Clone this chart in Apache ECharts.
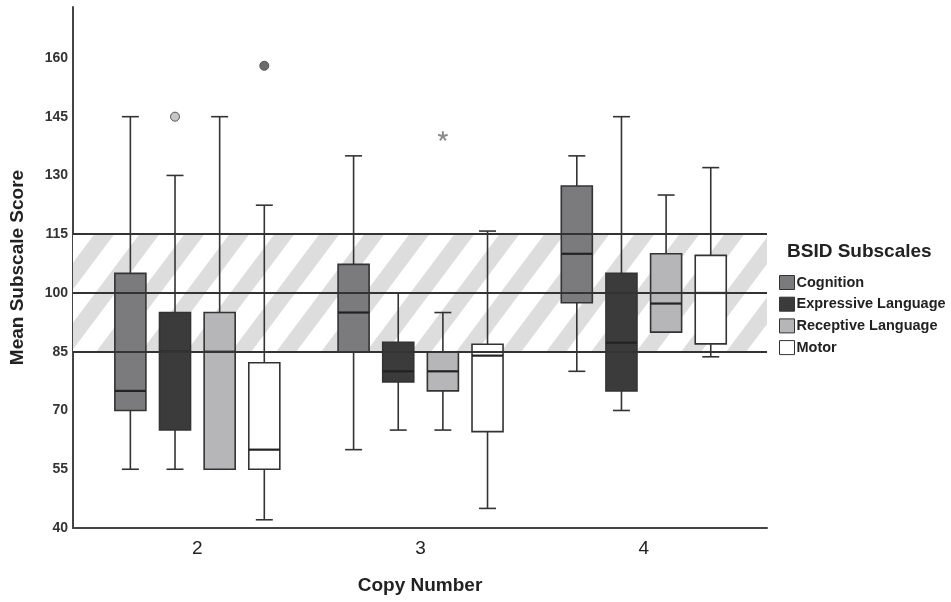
<!DOCTYPE html>
<html>
<head>
<meta charset="utf-8">
<script src="https://cdn.jsdelivr.net/npm/echarts@6/dist/echarts.min.js"></script>
<style>
  html, body { margin: 0; padding: 0; background: #fff; }
  #main { width: 951px; height: 602px; }
</style>
</head>
<body>
<div id="main"></div>
<script>
var chartDom = document.getElementById('main');
var myChart = echarts.init(chartDom);
var option;

// copy numbers on the x axis
var copies = [2, 3, 4];
var subscales = ['Cognition', 'Expressive Language', 'Receptive Language', 'Motor'];
// each row: [min, q1, median, q3, max], one row per copy number
var cognition = [[55, 70, 75, 105, 145], [60, 85, 95, 107.3, 135], [80, 97.5, 110, 127.3, 135]];
var expressive = [[55, 65, 85, 95, 130], [65, 77.3, 80, 87.4, 100], [70, 75, 87.3, 105, 145]];
var receptive = [[55, 55, 85, 95, 145], [65, 75, 80, 85, 95], [90, 90, 97.3, 110, 125]];
var motor = [[42.1, 55, 60, 82.2, 122.4], [45, 64.6, 84, 86.9, 115.8], [83.7, 87, 100, 109.6, 132]];
// outliers: [copy, subscale index, value]
var outliers = [[2, 1, 145], [2, 3, 158], [3, 2, 140]];
var outlierKind = ['o', 'o', '*'];
// normal range lines
var refLines = [85, 100, 115];
var yTicks = [40, 55, 70, 85, 100, 115, 130, 145, 160];

var allRows = [cognition, expressive, receptive, motor];
var fills = ['#7b7b7d', '#3b3b3b', '#b6b6b8', '#ffffff'];
var offsets = [-0.3, -0.1, 0.1, 0.3];
var boxW = 0.139;
var capW = 0.076;
var outlierFill = ['#777', '#c6c6c6', '#8c8c8c', '#6c6c6c'];

// diagonal hatch for the band
function hatch() {
  var W = 45, H = 60, g = 20;
  var c = document.createElement('canvas');
  c.width = W; c.height = H;
  var ctx = c.getContext('2d');
  ctx.fillStyle = '#ffffff';
  ctx.fillRect(0, 0, W, H);
  ctx.fillStyle = '#dddddd';
  [-W, 0].forEach(function (s) {
    ctx.beginPath();
    ctx.moveTo(s, H);
    ctx.lineTo(s + g, H);
    ctx.lineTo(s + W + g, 0);
    ctx.lineTo(s + W, 0);
    ctx.closePath();
    ctx.fill();
  });
  return c;
}

function boxSeries(idx) {
  return {
    name: subscales[idx],
    type: 'custom',
    z: 3,
    itemStyle: { color: fills[idx] },
    encode: { x: 0, y: [1, 2, 3, 4, 5] },
    data: copies.map(function (c, k) { return [c].concat(allRows[idx][k]); }),
    renderItem: function (params, api) {
      var x = api.value(0) + offsets[idx];
      var half = api.size([boxW, 0])[0] / 2;
      var cap = api.size([capW, 0])[0] / 2;
      var pMin = api.coord([x, api.value(1)]);
      var pQ1 = api.coord([x, api.value(2)]);
      var pMed = api.coord([x, api.value(3)]);
      var pQ3 = api.coord([x, api.value(4)]);
      var pMax = api.coord([x, api.value(5)]);
      var ls = { stroke: '#333', lineWidth: 1.6 };
      var cx = pMed[0];
      return {
        type: 'group',
        children: [
          { type: 'line', shape: { x1: cx, y1: pQ3[1], x2: cx, y2: pMax[1] }, style: ls },
          { type: 'line', shape: { x1: cx - cap, y1: pMax[1], x2: cx + cap, y2: pMax[1] }, style: ls },
          { type: 'line', shape: { x1: cx, y1: pQ1[1], x2: cx, y2: pMin[1] }, style: ls },
          { type: 'line', shape: { x1: cx - cap, y1: pMin[1], x2: cx + cap, y2: pMin[1] }, style: ls },
          { type: 'rect', shape: { x: cx - half, y: pQ3[1], width: half * 2, height: pQ1[1] - pQ3[1] },
            style: { fill: fills[idx], stroke: '#333', lineWidth: 1.6 } },
          { type: 'line', shape: { x1: cx - half, y1: pMed[1], x2: cx + half, y2: pMed[1] },
            style: { stroke: '#222', lineWidth: 2.2 } }
        ]
      };
    }
  };
}

var series = [
  {
    type: 'line',
    data: [],
    z: 1,
    markArea: {
      silent: true,
      itemStyle: { color: { image: hatch(), repeat: 'repeat' } },
      data: [[{ yAxis: refLines[0] }, { yAxis: refLines[2] }]]
    }
  },
  {
    type: 'line',
    data: [],
    z: 5,
    markLine: {
      silent: true,
      symbol: 'none',
      label: { show: false },
      lineStyle: { color: '#333', width: 1.8, type: 'solid' },
      data: refLines.map(function (v) { return { yAxis: v }; })
    }
  }
];
subscales.forEach(function (s, i) { series.push(boxSeries(i)); });
series.push({
  type: 'custom',
  z: 6,
  encode: { x: 0, y: 2 },
  data: outliers,
  renderItem: function (params, api) {
    var si = api.value(1);
    var p = api.coord([api.value(0) + offsets[si], api.value(2)]);
    if (outlierKind[params.dataIndex] === '*') {
      var arms = [];
      for (var a = 0; a < 5; a++) {
        var ang = (-90 + a * 72) * Math.PI / 180;
        arms.push({ type: 'line', shape: { x1: p[0], y1: p[1], x2: p[0] + 5 * Math.cos(ang), y2: p[1] + 5 * Math.sin(ang) },
          style: { stroke: outlierFill[si], lineWidth: 2 } });
      }
      return { type: 'group', children: arms };
    }
    return { type: 'circle', shape: { cx: p[0], cy: p[1], r: 4.5 },
      style: { fill: outlierFill[si], stroke: '#555', lineWidth: 1 } };
  }
});

option = {
  animation: false,
  backgroundColor: '#fff',
  title: {
    text: 'BSID Subscales',
    left: 787,
    top: 242,
    padding: 0,
    textStyle: { fontFamily: 'Liberation Sans, Arial', fontWeight: 'bold', fontSize: 19, color: '#222' }
  },
  legend: {
    orient: 'vertical',
    left: 779,
    top: 275,
    padding: 0,
    itemWidth: 15,
    itemHeight: 14,
    itemGap: 6.7,
    icon: 'rect',
    textStyle: { fontFamily: 'Liberation Sans, Arial', fontWeight: 'bold', fontSize: 14.5, lineHeight: 14, color: '#222', padding: [0, 0, 0, -3] },
    data: subscales.map(function (s, i) {
      return { name: s, itemStyle: { color: fills[i], borderColor: '#333', borderWidth: 1 } };
    })
  },
  grid: { left: 73, right: 184, top: 7, bottom: 74 },
  xAxis: {
    type: 'value',
    min: 1.443,
    max: 4.552,
    name: 'Copy Number',
    nameLocation: 'middle',
    nameGap: 48,
    nameTextStyle: { fontFamily: 'Liberation Sans, Arial', fontWeight: 'bold', fontSize: 19, color: '#222' },
    axisLine: { lineStyle: { color: '#444', width: 2 } },
    axisTick: { show: false },
    splitLine: { show: false },
    axisLabel: {
      customValues: copies,
      margin: 11,
      fontFamily: 'Liberation Sans, Arial',
      fontSize: 19,
      color: '#222'
    }
  },
  yAxis: {
    type: 'value',
    min: 40,
    max: 173,
    name: 'Mean Subscale Score',
    nameLocation: 'middle',
    nameGap: 46,
    nameTextStyle: { fontFamily: 'Liberation Sans, Arial', fontWeight: 'bold', fontSize: 19, color: '#222' },
    axisLine: { show: true, lineStyle: { color: '#444', width: 2 } },
    axisTick: { show: false },
    splitLine: { show: false },
    axisLabel: {
      customValues: yTicks,
      margin: 5,
      fontFamily: 'Liberation Sans, Arial',
      fontWeight: 'bold',
      fontSize: 14,
      color: '#333'
    }
  },
  series: series
};

option && myChart.setOption(option);
</script>
</body>
</html>
